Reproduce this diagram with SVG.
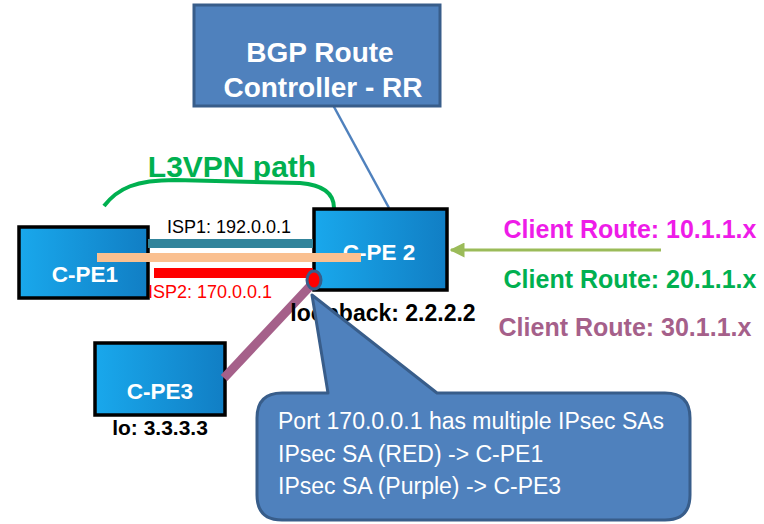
<svg xmlns="http://www.w3.org/2000/svg" width="764" height="524" viewBox="0 0 764 524">
<style>
.t{font-family:"Liberation Sans",Arial,sans-serif}
.b{font-weight:bold}
.node{stroke:#000;stroke-width:3.5}
.wt{fill:#fff;font-weight:bold;font-size:22.5px;text-anchor:middle}
.big{font-size:28px}
</style>
<defs>
<linearGradient id="g" x1="0" y1="0" x2="1" y2="0">
<stop offset="0" stop-color="#19A8EC"/>
<stop offset="1" stop-color="#117EC4"/>
</linearGradient>
<marker id="ah" viewBox="0 0 10 10" refX="9" refY="5" markerWidth="5" markerHeight="5" orient="auto-start-reverse">
<path d="M0,0 L10,5 L0,10 z" fill="#9BBB59"/>
</marker>
</defs>
<rect width="764" height="524" fill="#fff"/>

<g id="connectors">
<line x1="333" y1="105" x2="389" y2="208" stroke="#4F81BD" stroke-width="2.5"/>
<path d="M104,206 C118,188 136,180 175,180 L300,183 C325,185 334,195 334,208" fill="none" stroke="#00B050" stroke-width="4"/>
<line x1="661" y1="250" x2="451" y2="250" stroke="#9BBB59" stroke-width="3" marker-end="url(#ah)"/>
</g>

<g id="bgp">
<rect x="194" y="5" width="246" height="101" fill="#4F81BD" stroke="#385D8A" stroke-width="3"/>
<text class="t wt big" x="320" y="62">BGP Route</text>
<text class="t wt big" x="323" y="97">Controller - RR</text>
</g>

<g id="cpe1">
<rect class="node" x="19" y="227" width="129" height="71" fill="url(#g)"/>
<text class="t wt" x="85" y="282">C-PE1</text>
</g>

<g id="cpe2">
<rect class="node" x="314" y="209" width="133" height="81" fill="url(#g)"/>
<text class="t wt" x="379" y="260">C-PE 2</text>
</g>

<g id="cpe3">
<rect class="node" x="95" y="343" width="130" height="72" fill="url(#g)"/>
<text class="t wt" x="160" y="399">C-PE3</text>
<text class="t b" x="160" y="435" font-size="21" text-anchor="middle">lo: 3.3.3.3</text>
</g>

<g id="links">
<line x1="148" y1="243.5" x2="313" y2="243.5" stroke="#31849B" stroke-width="9"/>
<line x1="97" y1="257.5" x2="361" y2="257.5" stroke="#FAC090" stroke-width="9"/>
<line x1="154" y1="273" x2="313" y2="273" stroke="#FF0000" stroke-width="10"/>
<line x1="314" y1="282" x2="224" y2="378" stroke="#A5608A" stroke-width="9"/>
<ellipse cx="314" cy="280" rx="7" ry="9" fill="#FF0000" stroke="#385D8A" stroke-width="3"/>
</g>

<text class="t" x="229" y="233" font-size="18" text-anchor="middle">ISP1: 192.0.0.1</text>
<text class="t" x="210" y="298" font-size="18" text-anchor="middle" fill="#FF0000">ISP2: 170.0.0.1</text>
<text class="t b" x="232" y="177" font-size="30" text-anchor="middle" fill="#00B050">L3VPN path</text>
<text class="t b" x="383" y="321" font-size="23" text-anchor="middle">loopback: 2.2.2.2</text>

<g id="routes">
<text class="t b" x="630" y="238" font-size="25" text-anchor="middle" fill="#EE1CE8">Client Route: 10.1.1.x</text>
<text class="t b" x="630" y="288" font-size="25" text-anchor="middle" fill="#00B050">Client Route: 20.1.1.x</text>
<text class="t b" x="625" y="336" font-size="25" text-anchor="middle" fill="#A5608A">Client Route: 30.1.1.x</text>
</g>

<g id="callout">
<path d="M282,393 L328,393 L312,295 L437,393 L665,393 Q690,393 690,418 L690,495 Q690,520 665,520 L282,520 Q257,520 257,495 L257,418 Q257,393 282,393 Z" fill="#4F81BD" stroke="#385D8A" stroke-width="3" stroke-linejoin="round"/>
<text class="t" x="278" y="429" font-size="23" fill="#fff">Port 170.0.0.1 has multiple IPsec SAs</text>
<text class="t" x="278" y="462" font-size="23" fill="#fff">IPsec SA (RED) -&gt; C-PE1</text>
<text class="t" x="278" y="494" font-size="23" fill="#fff">IPsec SA (Purple) -&gt; C-PE3</text>
</g>
</svg>
